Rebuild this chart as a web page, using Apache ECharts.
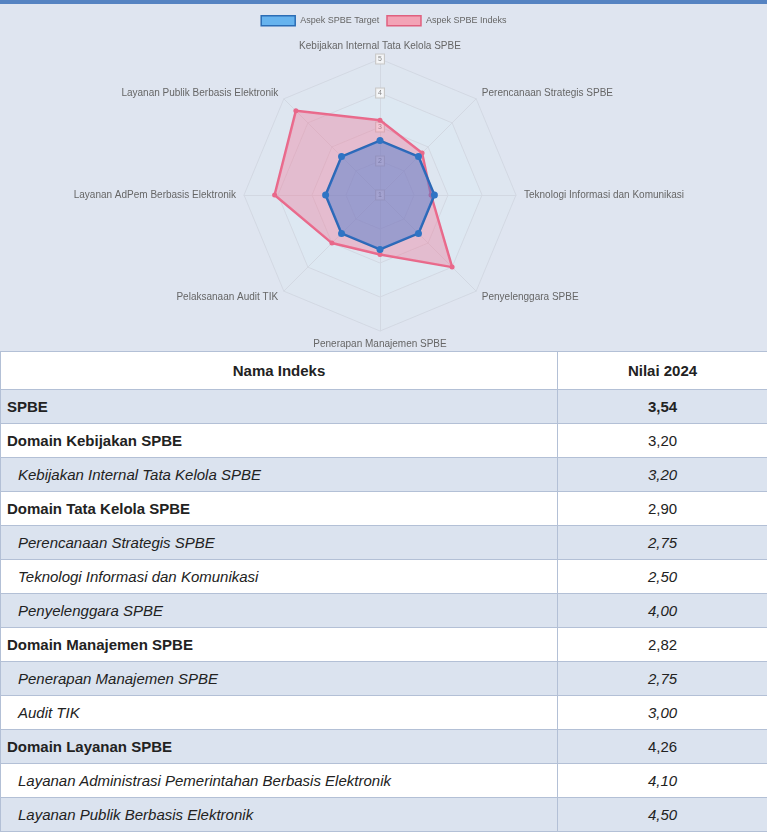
<!DOCTYPE html>
<html>
<head>
<meta charset="utf-8">
<script src="https://cdn.jsdelivr.net/npm/echarts@6/dist/echarts.min.js"></script>
<style>
  html, body { margin: 0; padding: 0; background: #ffffff; }
  body { width: 767px; font-family: "Liberation Sans", Arial, sans-serif; }
  #main { width: 767px; height: 347px; background: #dfe5f0; border-top: 4px solid #5583c2; }
  table { width: 767px; border-collapse: collapse; table-layout: fixed; color: #222; font-size: 15px; }
  td, th { border: 1px solid #b3c0d6; padding: 0 6px; }
  th { height: 37px; font-weight: bold; text-align: center; background: #ffffff; }
  td { height: 33px; }
  td.v { text-align: center; }
  tr.blue td { background: #dbe3ef; }
  tr.white td { background: #ffffff; }
  tr.l0 td, tr.l1 td { font-weight: bold; }
  tr.l1 td.v { font-weight: normal; }
  tr.l2 td { font-style: italic; }
  tr.l2 td.n { padding-left: 17px; }
</style>
</head>
<body>
<div id="main"></div>
<table id="tbl">
  <colgroup><col style="width:557px"><col style="width:210px"></colgroup>
</table>
<script>
// radar axes, in the order they appear clockwise from the top
var axisNames = [
  "Kebijakan Internal Tata Kelola SPBE",
  "Perencanaan Strategis SPBE",
  "Teknologi Informasi dan Komunikasi",
  "Penyelenggara SPBE",
  "Penerapan Manajemen SPBE",
  "Pelaksanaan Audit TIK",
  "Layanan AdPem Berbasis Elektronik",
  "Layanan Publik Berbasis Elektronik"
];
var targetValues = [2.6, 2.6, 2.6, 2.6, 2.6, 2.6, 2.6, 2.6];
var indexValues = [3.2, 2.75, 2.5, 4.0, 2.75, 3.0, 4.1, 4.5];

// table
var rowNames = [
  "SPBE",
  "Domain Kebijakan SPBE",
  "Kebijakan Internal Tata Kelola SPBE",
  "Domain Tata Kelola SPBE",
  "Perencanaan Strategis SPBE",
  "Teknologi Informasi dan Komunikasi",
  "Penyelenggara SPBE",
  "Domain Manajemen SPBE",
  "Penerapan Manajemen SPBE",
  "Audit TIK",
  "Domain Layanan SPBE",
  "Layanan Administrasi Pemerintahan Berbasis Elektronik",
  "Layanan Publik Berbasis Elektronik"
];
var rowValues = ["3,54", "3,20", "3,20", "2,90", "2,75", "2,50", "4,00", "2,82", "2,75", "3,00", "4,26", "4,10", "4,50"];
var rowLevels = [0, 1, 2, 1, 2, 2, 2, 1, 2, 2, 1, 2, 2];

var tbl = document.getElementById("tbl");
var html = '<tr><th>Nama Indeks</th><th>Nilai 2024</th></tr>';
rowNames.forEach(function (n, i) {
  html += '<tr class="' + (i % 2 === 0 ? "blue" : "white") + ' l' + rowLevels[i] + '">' +
    '<td class="n">' + n + '</td><td class="v">' + rowValues[i] + '</td></tr>';
});
tbl.insertAdjacentHTML("beforeend", html);

// echarts draws radar counter-clockwise, so flip the order after the first axis
var order = [0, 7, 6, 5, 4, 3, 2, 1];
var pick = function (arr) { return order.map(function (k) { return arr[k]; }); };

var chartDom = document.getElementById("main");
var myChart = echarts.init(chartDom);

var option = {
  animation: false,
  legend: {
    top: 6,
    left: "center",
    itemWidth: 34,
    itemHeight: 10,
    itemGap: 7,
    icon: "rect",
    textStyle: { fontSize: 9, color: "#666", fontFamily: "Liberation Sans" },
    data: [
      { name: "Aspek SPBE Target", itemStyle: { color: "#66b3ee", borderColor: "#2b6db5", borderWidth: 1.5 } },
      { name: "Aspek SPBE Indeks", itemStyle: { color: "#f3a3b6", borderColor: "#e0607f", borderWidth: 1.5 } }
    ]
  },
  radar: {
    center: [380, 191],
    radius: 136,
    shape: "polygon",
    splitNumber: 4,
    nameGap: 8,
    axisName: { color: "#666", fontSize: 10, fontFamily: "Liberation Sans" },
    splitLine: { lineStyle: { color: "#d2d8e2", width: 1 } },
    splitArea: { areaStyle: { color: ["rgba(220,236,244,0.5)", "rgba(222,232,242,0.3)"] } },
    axisLine: { lineStyle: { color: "#d2d8e2" } },
    axisLabel: { show: false },
    indicator: pick(axisNames).map(function (n, i) {
      var ind = { name: n, min: 1, max: 5 };
      if (i === 0) {
        ind.axisLabel = {
          show: true, fontSize: 7, color: "#888", margin: -4,
          backgroundColor: "rgba(255,255,255,0.7)", borderColor: "#c8c8c8", borderWidth: 1, padding: [1, 2]
        };
      }
      return ind;
    })
  },
  series: [
    {
      type: "radar",
      z: 3,
      symbol: "circle",
      data: [
        {
          name: "Aspek SPBE Indeks",
          value: pick(indexValues),
          symbolSize: 5,
          itemStyle: { color: "#e8688a" },
          lineStyle: { color: "#e8688a", width: 2.5 },
          areaStyle: { color: "rgba(240,120,152,0.55)" }
        }
      ]
    },
    {
      type: "radar",
      z: 4,
      symbol: "circle",
      data: [
        {
          name: "Aspek SPBE Target",
          value: pick(targetValues),
          symbolSize: 7,
          itemStyle: { color: "#2f74c4" },
          lineStyle: { color: "#2a68b4", width: 2.5 },
          areaStyle: { color: "rgba(55,115,205,0.6)" }
        }
      ]
    }
  ]
};

option && myChart.setOption(option);
</script>
</body>
</html>
